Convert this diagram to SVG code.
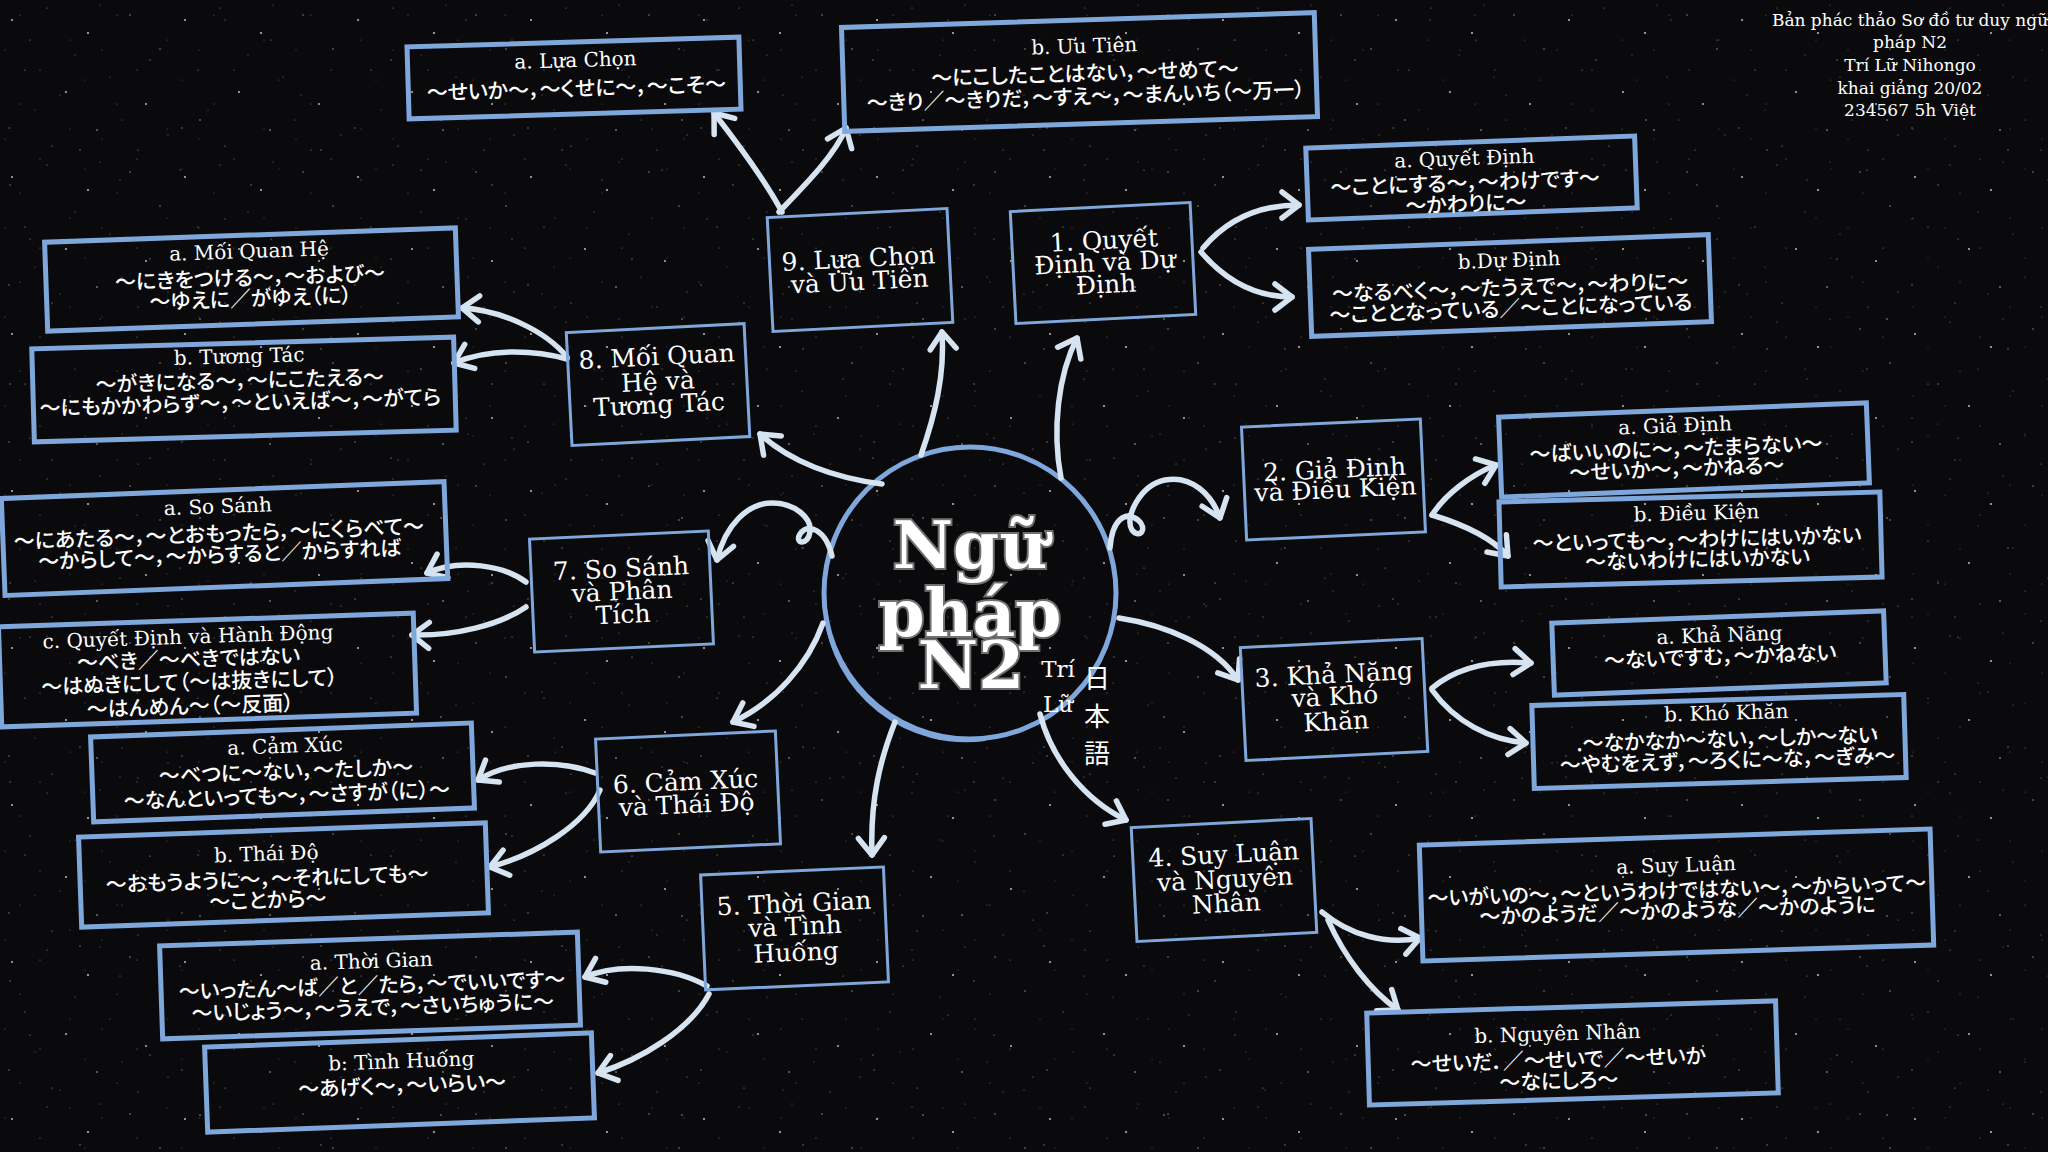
<svg xmlns="http://www.w3.org/2000/svg" width="2048" height="1152" viewBox="0 0 2048 1152">
<defs>
<style>
.sb{fill:none;stroke:#7fa7dc;stroke-width:5}
.cb{fill:none;stroke:#7fa7dc;stroke-width:3}
.t{font-family:"DejaVu Serif","Liberation Serif",serif;fill:#fff;text-anchor:middle}
.ts{font-size:20px}
.tc{font-size:25px}
.jp{font-family:"Noto Sans CJK JP","Noto Sans",sans-serif;font-size:21px;font-weight:500;font-feature-settings:"palt";fill:#fff;text-anchor:middle}
.con path{fill:none;stroke:#d6e3f0;stroke-width:5.5;stroke-linecap:round;marker-end:url(#ah)}
.title{font-family:"DejaVu Serif",serif;font-weight:bold;font-size:66px;fill:#fff;stroke:#707070;stroke-width:4;paint-order:stroke;text-anchor:middle}
.info{font-family:"DejaVu Serif",serif;font-size:17px;fill:#fff;text-anchor:middle}
</style>
<marker id="ah" markerUnits="userSpaceOnUse" markerWidth="40" markerHeight="40" viewBox="-24 -20 30 40" refX="0" refY="0" orient="auto">
<path d="M-17,-13 L0,0 L-17,13" fill="none" stroke="#d6e3f0" stroke-width="5.5" stroke-linecap="round" stroke-linejoin="round"/>
</marker>
<pattern id="stars1" width="173" height="157" patternUnits="userSpaceOnUse">
<g fill="#fff">
<circle cx="12" cy="20" r="0.9" opacity="0.8"/><circle cx="47" cy="8" r="0.6" opacity="0.5"/><circle cx="88" cy="33" r="1.1" opacity="0.7"/>
<circle cx="130" cy="15" r="0.7" opacity="0.6"/><circle cx="160" cy="49" r="0.8" opacity="0.5"/><circle cx="25" cy="70" r="0.6" opacity="0.6"/>
<circle cx="66" cy="92" r="0.9" opacity="0.8"/><circle cx="110" cy="77" r="0.6" opacity="0.4"/><circle cx="146" cy="104" r="1" opacity="0.7"/>
<circle cx="9" cy="128" r="0.7" opacity="0.5"/><circle cx="52" cy="146" r="0.6" opacity="0.6"/><circle cx="97" cy="130" r="0.8" opacity="0.7"/>
<circle cx="138" cy="150" r="0.6" opacity="0.5"/><circle cx="75" cy="55" r="0.5" opacity="0.5"/><circle cx="35" cy="110" r="0.5" opacity="0.4"/>
<circle cx="122" cy="120" r="0.5" opacity="0.5"/><circle cx="168" cy="135" r="0.5" opacity="0.6"/><circle cx="100" cy="5" r="0.5" opacity="0.5"/>
</g>
</pattern>
<pattern id="stars2" width="241" height="199" patternUnits="userSpaceOnUse">
<g fill="#fff">
<circle cx="30" cy="40" r="0.6" opacity="0.6"/><circle cx="80" cy="150" r="0.7" opacity="0.5"/><circle cx="150" cy="60" r="0.6" opacity="0.7"/>
<circle cx="200" cy="120" r="0.8" opacity="0.6"/><circle cx="120" cy="180" r="0.5" opacity="0.6"/><circle cx="225" cy="20" r="0.6" opacity="0.5"/>
<circle cx="60" cy="95" r="0.5" opacity="0.5"/><circle cx="180" cy="170" r="0.6" opacity="0.6"/><circle cx="10" cy="185" r="0.7" opacity="0.5"/>
</g>
</pattern>
<pattern id="stars3" width="97" height="89" patternUnits="userSpaceOnUse">
<g fill="#fff">
<circle cx="20" cy="15" r="0.5" opacity="0.45"/><circle cx="70" cy="40" r="0.5" opacity="0.4"/><circle cx="40" cy="70" r="0.6" opacity="0.45"/>
<circle cx="85" cy="80" r="0.5" opacity="0.35"/><circle cx="5" cy="50" r="0.5" opacity="0.4"/>
</g>
</pattern>
</defs>
<rect width="2048" height="1152" fill="#0a0a0c"/>
<rect width="2048" height="1152" fill="url(#stars1)"/>
<rect width="2048" height="1152" fill="url(#stars2)"/>
<rect width="2048" height="1152" fill="url(#stars3)"/>

<g id="info">
<text class="info" x="1910" y="26">Bản phác thảo Sơ đồ tư duy ngữ</text>
<text class="info" x="1910" y="48">pháp N2</text>
<text class="info" x="1910" y="71">Trí Lữ Nihongo</text>
<text class="info" x="1910" y="94">khai giảng 20/02</text>
<text class="info" x="1910" y="116">234567 5h Việt</text>
</g>

<g id="center">
<circle cx="970" cy="593" r="146" fill="none" stroke="#7fa7dc" stroke-width="5"/>
<path d="M826,615 A141,141 0 0 0 985,739" fill="none" stroke="#7fa7dc" stroke-width="4"/>
<text class="title" x="970" y="568">Ngữ</text>
<text class="title" x="970" y="636">pháp</text>
<text class="title" x="971" y="688">N2</text>
<text class="t" x="1058" y="677" font-size="23">Trí</text>
<text class="t" x="1058" y="712" font-size="23">Lữ</text>
<g font-family="Noto Sans CJK JP,sans-serif" font-size="26" fill="#fff" text-anchor="middle">
<text x="1097" y="688">日</text>
<text x="1097" y="726">本</text>
<text x="1097" y="763">語</text>
</g>
</g>

<g id="connectors" class="con">
<path d="M1061,478 C1052,430 1058,375 1077,338"/>
<path d="M921,455 C935,415 945,375 942,332"/>
<path d="M882,484 C835,478 790,462 760,434"/>
<path d="M832,556 C826,530 808,522 800,534 C794,544 808,546 810,532 C812,518 795,503 772,503 C748,503 725,525 717,560"/>
<path d="M823,623 C808,665 775,702 733,722"/>
<path d="M895,722 C880,760 870,800 872,855"/>
<path d="M1040,714 C1052,760 1085,800 1126,820"/>
<path d="M1119,618 C1165,625 1215,645 1238,680"/>
<path d="M1110,548 C1112,520 1125,510 1138,520 C1148,528 1140,540 1132,530 C1124,518 1140,485 1165,480 C1192,475 1212,495 1220,518"/>
<path d="M782,212 C765,180 735,140 714,113"/>
<path d="M779,212 C805,185 835,155 846,128"/>
<path d="M1203,248 C1225,222 1255,205 1299,205"/>
<path d="M1201,252 C1225,280 1255,297 1292,297"/>
<path d="M567,357 C545,330 500,310 462,308"/>
<path d="M567,359 C535,350 490,348 454,363"/>
<path d="M526,582 C505,566 460,558 427,573"/>
<path d="M526,607 C500,625 455,636 412,635"/>
<path d="M595,773 C560,760 510,760 478,780"/>
<path d="M600,790 C585,825 535,855 490,867"/>
<path d="M707,986 C675,968 620,962 585,977"/>
<path d="M709,994 C690,1030 640,1060 598,1073"/>
<path d="M1322,912 C1350,935 1385,945 1420,938"/>
<path d="M1328,920 C1345,958 1370,990 1398,1010"/>
<path d="M1432,688 C1460,665 1495,660 1531,663"/>
<path d="M1432,690 C1455,722 1490,740 1526,743"/>
<path d="M1432,515 C1445,495 1470,475 1496,465"/>
<path d="M1432,515 C1465,525 1492,538 1508,556"/>
</g>

<g id="n9" transform="rotate(-2.9 860 270)">
<rect class="cb" x="770" y="213" width="180" height="114"/>
<text class="t tc" x="859" y="267">9. Lựa Chọn</text>
<text class="t tc" x="859" y="290">và Ưu Tiên</text>
</g>
<g id="n9a" transform="rotate(-1.7 574 78)">
<rect class="sb" x="408" y="42" width="332" height="72"/>
<text class="t ts" x="576" y="67">a. Lựa Chọn</text>
<text class="jp" x="576" y="96">～せいか～，～くせに～，～こそ～</text>
</g>
<g id="n9b" transform="rotate(-1.8 1080 72)">
<rect class="sb" x="843" y="20" width="473" height="104"/>
<text class="t ts" x="1085" y="53">b. Ưu Tiên</text>
<text class="jp" x="1085" y="81">～にこしたことはない，～せめて～</text>
<text class="jp" x="1085" y="104">～きり／～きりだ，～すえ～，～まんいち（～万一）</text>
</g>

<g id="n1" transform="rotate(-2.9 1103 263)">
<rect class="cb" x="1013" y="207" width="180" height="112"/>
<text class="t tc" x="1105" y="249">1. Quyết</text>
<text class="t tc" x="1105" y="271">Định và Dự</text>
<text class="t tc" x="1105" y="293">Định</text>
</g>
<g id="n1a" transform="rotate(-2.1 1471 178)">
<rect class="sb" x="1307" y="142" width="329" height="72"/>
<text class="t ts" x="1465" y="165">a. Quyết Định</text>
<text class="jp" x="1465" y="190">～ことにする～，～わけです～</text>
<text class="jp" x="1465" y="211">～かわりに～</text>
</g>
<g id="n1b" transform="rotate(-2.1 1510 286)">
<rect class="sb" x="1310" y="242" width="400" height="87"/>
<text class="t ts" x="1510" y="267">b.Dự Định</text>
<text class="jp" x="1510" y="295">～なるべく～，～たうえで～，～わりに～</text>
<text class="jp" x="1510" y="316">～こととなっている／～ことになっている</text>
</g>

<g id="n2" transform="rotate(-2.6 1334 480)">
<rect class="cb" x="1244" y="423" width="179" height="113"/>
<text class="t tc" x="1335" y="478">2. Giả Định</text>
<text class="t tc" x="1335" y="498">và Điều Kiện</text>
</g>
<g id="n2a" transform="rotate(-2.2 1684 450)">
<rect class="sb" x="1500" y="410" width="368" height="80"/>
<text class="t ts" x="1676" y="432">a. Giả Định</text>
<text class="jp" x="1676" y="456">～ばいいのに～，～たまらない～</text>
<text class="jp" x="1676" y="476">～せいか～，～かねる～</text>
</g>
<g id="n2b" transform="rotate(-1.5 1690 539)">
<rect class="sb" x="1500" y="497" width="381" height="85"/>
<text class="t ts" x="1697" y="520">b. Điều Kiện</text>
<text class="jp" x="1697" y="547">～といっても～，～わけにはいかない</text>
<text class="jp" x="1697" y="567">～ないわけにはいかない</text>
</g>

<g id="n3" transform="rotate(-2.9 1334 699)">
<rect class="cb" x="1243" y="643" width="182" height="113"/>
<text class="t tc" x="1335" y="683">3. Khả Năng</text>
<text class="t tc" x="1335" y="705">và Khó</text>
<text class="t tc" x="1335" y="730">Khăn</text>
</g>
<g id="n3a" transform="rotate(-2.1 1719 653)">
<rect class="sb" x="1553" y="617" width="332" height="72"/>
<text class="t ts" x="1720" y="642">a. Khả Năng</text>
<text class="jp" x="1720" y="664">～ないですむ，～かねない</text>
</g>
<g id="n3b" transform="rotate(-1.7 1719 741)">
<rect class="sb" x="1533" y="700" width="372" height="83"/>
<text class="t ts" x="1727" y="720">b. Khó Khăn</text>
<text class="jp" x="1727" y="747">.～なかなか～ない，～しか～ない</text>
<text class="jp" x="1727" y="768">～やむをえず，～ろくに～な，～ぎみ～</text>
</g>

<g id="n4" transform="rotate(-2.9 1224 880)">
<rect class="cb" x="1134" y="823" width="180" height="114"/>
<text class="t tc" x="1225" y="863">4. Suy Luận</text>
<text class="t tc" x="1225" y="888">và Nguyên</text>
<text class="t tc" x="1225" y="912">Nhân</text>
</g>
<g id="n4a" transform="rotate(-1.8 1677 895)">
<rect class="sb" x="1421" y="837" width="511" height="116"/>
<text class="t ts" x="1677" y="872">a. Suy Luận</text>
<text class="jp" x="1677" y="898">～いがいの～，～というわけではない～，～からいって～</text>
<text class="jp" x="1677" y="918">～かのようだ／～かのような／～かのように</text>
</g>
<g id="n4b" transform="rotate(-1.7 1572 1053)">
<rect class="sb" x="1368" y="1007" width="409" height="92"/>
<text class="t ts" x="1558" y="1040">b. Nguyên Nhân</text>
<text class="jp" x="1558" y="1067">～せいだ．／～せいで／～せいか</text>
<text class="jp" x="1558" y="1088">～なにしろ～</text>
</g>

<g id="n5" transform="rotate(-2.5 794 928)">
<rect class="cb" x="703" y="871" width="183" height="115"/>
<text class="t tc" x="795" y="912">5. Thời Gian</text>
<text class="t tc" x="795" y="935">và Tình</text>
<text class="t tc" x="795" y="961">Huống</text>
</g>
<g id="n5a" transform="rotate(-1.9 370 985)">
<rect class="sb" x="161" y="939" width="418" height="93"/>
<text class="t ts" x="372" y="968">a. Thời Gian</text>
<text class="jp" x="372" y="993">～いったん～ば／と／たら，～でいいです～</text>
<text class="jp" x="372" y="1015">～いじょう～，～うえで，～さいちゅうに～</text>
</g>
<g id="n5b" transform="rotate(-2.1 400 1082)">
<rect class="sb" x="206" y="1040" width="387" height="85"/>
<text class="t ts" x="402" y="1068">b: Tình Huống</text>
<text class="jp" x="402" y="1093">～あげく～，～いらい～</text>
</g>

<g id="n6" transform="rotate(-2.6 688 791)">
<rect class="cb" x="598" y="735" width="180" height="113"/>
<text class="t tc" x="686" y="790">6. Cảm Xúc</text>
<text class="t tc" x="686" y="813">và Thái Độ</text>
</g>
<g id="n6a" transform="rotate(-2.1 282 772)">
<rect class="sb" x="92" y="730" width="381" height="85"/>
<text class="t ts" x="286" y="753">a. Cảm Xúc</text>
<text class="jp" x="286" y="779">～べつに～ない，～たしか～</text>
<text class="jp" x="286" y="803">～なんといっても～，～さすが（に）～</text>
</g>
<g id="n6b" transform="rotate(-2 283 875)">
<rect class="sb" x="80" y="830" width="407" height="90"/>
<text class="t ts" x="267" y="860">b. Thái Độ</text>
<text class="jp" x="267" y="886">～おもうように～，～それにしても～</text>
<text class="jp" x="267" y="907">～ことから～</text>
</g>

<g id="n7" transform="rotate(-2.6 622 592)">
<rect class="cb" x="532" y="535" width="179" height="113"/>
<text class="t tc" x="622" y="577">7. So Sánh</text>
<text class="t tc" x="622" y="600">và Phân</text>
<text class="t tc" x="622" y="623">Tích</text>
</g>
<g id="n7a" transform="rotate(-2.2 225 538)">
<rect class="sb" x="3" y="490" width="443" height="97"/>
<text class="t ts" x="219" y="513">a. So Sánh</text>
<text class="jp" x="219" y="541">～にあたる～，～とおもったら，～にくらべて～</text>
<text class="jp" x="219" y="562">～からして～，～からすると／からすれば</text>
</g>
<g id="n7c" transform="rotate(-1.9 207 670)">
<rect class="sb" x="0" y="620" width="415" height="100"/>
<text class="t ts" x="189" y="643">c. Quyết Định và Hành Động</text>
<text class="jp" x="189" y="666">～べき／～べきではない</text>
<text class="jp" x="189" y="689">～はぬきにして（～は抜きにして）</text>
<text class="jp" x="189" y="713">～はんめん～（～反面）</text>
</g>

<g id="n8" transform="rotate(-2.9 659 384)">
<rect class="cb" x="569" y="328" width="178" height="113"/>
<text class="t tc" x="658" y="365">8. Mối Quan</text>
<text class="t tc" x="658" y="390">Hệ và</text>
<text class="t tc" x="658" y="413">Tương Tác</text>
</g>
<g id="n8a" transform="rotate(-2 252 279)">
<rect class="sb" x="46" y="235" width="411" height="89"/>
<text class="t ts" x="250" y="258">a. Mối Quan Hệ</text>
<text class="jp" x="250" y="285">～にきをつける～，～および～</text>
<text class="jp" x="250" y="306">～ゆえに／がゆえ（に）</text>
</g>
<g id="n8b" transform="rotate(-1.6 244 390)">
<rect class="sb" x="33" y="343" width="422" height="93"/>
<text class="t ts" x="240" y="363">b. Tương Tác</text>
<text class="jp" x="240" y="388">～がきになる～，～にこたえる～</text>
<text class="jp" x="240" y="410">～にもかかわらず～，～といえば～，～がてら</text>
</g>
</svg>
